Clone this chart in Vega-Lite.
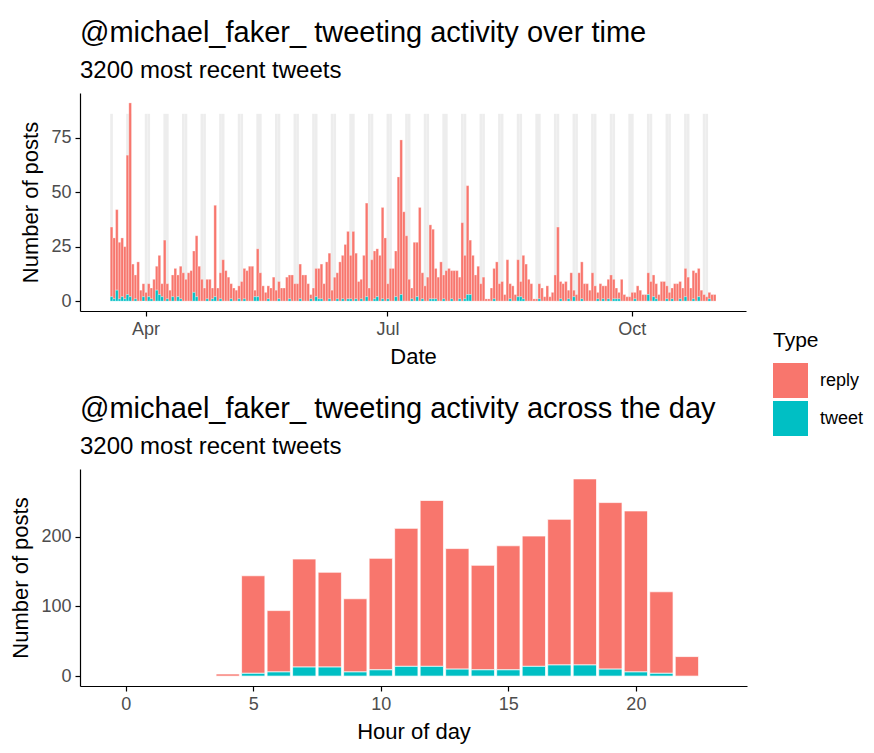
{
  "$schema": "https://vega.github.io/schema/vega-lite/v6.json",
  "background": "white",
  "padding": {"left": 9, "top": 19, "right": 4, "bottom": 4},
  "align": "none",
  "spacing": 28,
  "config": {
    "font": "Liberation Sans",
    "view": {"stroke": null},
    "axis": {"domainColor": "black", "domainWidth": 1.2, "tickColor": "black", "tickWidth": 1.2, "tickSize": 5, "labelColor": "#4D4D4D", "labelFontSize": 18, "titleFontSize": 22, "titleFontWeight": "normal", "titleColor": "black", "grid": false, "labelPadding": 4, "titlePadding": 8},
    "title": {"anchor": "start", "frame": "group", "fontSize": 29, "fontWeight": "normal", "color": "black", "subtitleFontSize": 24, "subtitleColor": "black", "subtitlePadding": 11, "offset": 10},
    "legend": {"titleFontSize": 21, "titleFontWeight": "normal", "titleColor": "black", "labelFontSize": 18, "labelColor": "black", "symbolType": "square", "symbolSize": 1225, "symbolStrokeWidth": 0, "symbolOpacity": 1, "rowPadding": 3, "labelOffset": 12, "titlePadding": 12}
  },
  "datasets": {
    "daily": [
      {"date":"2017-03-19","Type":"reply","n":32},{"date":"2017-03-20","Type":"reply","n":28},{"date":"2017-03-21","Type":"reply","n":37},{"date":"2017-03-22","Type":"reply","n":26},{"date":"2017-03-23","Type":"reply","n":27},{"date":"2017-03-24","Type":"reply","n":24},{"date":"2017-03-25","Type":"reply","n":64},{"date":"2017-03-26","Type":"reply","n":89},{"date":"2017-03-27","Type":"reply","n":17},{"date":"2017-03-28","Type":"reply","n":11},{"date":"2017-03-29","Type":"reply","n":18},{"date":"2017-03-30","Type":"reply","n":5},{"date":"2017-03-31","Type":"reply","n":6},
      {"date":"2017-04-01","Type":"reply","n":4},{"date":"2017-04-02","Type":"reply","n":6},{"date":"2017-04-03","Type":"reply","n":5},{"date":"2017-04-04","Type":"reply","n":10},{"date":"2017-04-05","Type":"reply","n":11},{"date":"2017-04-06","Type":"reply","n":18},{"date":"2017-04-07","Type":"reply","n":6},{"date":"2017-04-08","Type":"reply","n":28},{"date":"2017-04-09","Type":"reply","n":7},{"date":"2017-04-10","Type":"reply","n":5},{"date":"2017-04-11","Type":"reply","n":10},{"date":"2017-04-12","Type":"reply","n":15},{"date":"2017-04-13","Type":"reply","n":10},{"date":"2017-04-14","Type":"reply","n":15},{"date":"2017-04-15","Type":"reply","n":13},{"date":"2017-04-16","Type":"reply","n":10},{"date":"2017-04-17","Type":"reply","n":13},{"date":"2017-04-18","Type":"reply","n":14},{"date":"2017-04-19","Type":"reply","n":19},{"date":"2017-04-20","Type":"reply","n":28},{"date":"2017-04-21","Type":"reply","n":16},{"date":"2017-04-22","Type":"reply","n":10},{"date":"2017-04-23","Type":"reply","n":6},{"date":"2017-04-24","Type":"reply","n":9},{"date":"2017-04-25","Type":"reply","n":10},{"date":"2017-04-26","Type":"reply","n":5},{"date":"2017-04-27","Type":"reply","n":42},{"date":"2017-04-28","Type":"reply","n":6},{"date":"2017-04-29","Type":"reply","n":12},{"date":"2017-04-30","Type":"reply","n":19},
      {"date":"2017-05-01","Type":"reply","n":14},{"date":"2017-05-02","Type":"reply","n":11},{"date":"2017-05-03","Type":"reply","n":7},{"date":"2017-05-04","Type":"reply","n":6},{"date":"2017-05-05","Type":"reply","n":5},{"date":"2017-05-06","Type":"reply","n":6},{"date":"2017-05-07","Type":"reply","n":9},{"date":"2017-05-08","Type":"reply","n":14},{"date":"2017-05-09","Type":"reply","n":14},{"date":"2017-05-10","Type":"reply","n":16},{"date":"2017-05-11","Type":"reply","n":16},{"date":"2017-05-12","Type":"reply","n":3},{"date":"2017-05-13","Type":"reply","n":22},{"date":"2017-05-14","Type":"reply","n":13},{"date":"2017-05-15","Type":"reply","n":7},{"date":"2017-05-16","Type":"reply","n":4},{"date":"2017-05-17","Type":"reply","n":6},{"date":"2017-05-18","Type":"reply","n":6},{"date":"2017-05-19","Type":"reply","n":11},{"date":"2017-05-20","Type":"reply","n":5},{"date":"2017-05-21","Type":"reply","n":8},{"date":"2017-05-22","Type":"reply","n":6},{"date":"2017-05-23","Type":"reply","n":6},{"date":"2017-05-24","Type":"reply","n":11},{"date":"2017-05-25","Type":"reply","n":11},{"date":"2017-05-26","Type":"reply","n":12},{"date":"2017-05-27","Type":"reply","n":8},{"date":"2017-05-28","Type":"reply","n":8},{"date":"2017-05-29","Type":"reply","n":16},{"date":"2017-05-30","Type":"reply","n":12},{"date":"2017-05-31","Type":"reply","n":12},
      {"date":"2017-06-01","Type":"reply","n":8},{"date":"2017-06-02","Type":"reply","n":2},{"date":"2017-06-03","Type":"reply","n":6},{"date":"2017-06-04","Type":"reply","n":13},{"date":"2017-06-05","Type":"reply","n":14},{"date":"2017-06-06","Type":"reply","n":16},{"date":"2017-06-07","Type":"reply","n":8},{"date":"2017-06-08","Type":"reply","n":18},{"date":"2017-06-09","Type":"reply","n":21},{"date":"2017-06-10","Type":"reply","n":5},{"date":"2017-06-11","Type":"reply","n":11},{"date":"2017-06-12","Type":"reply","n":12},{"date":"2017-06-13","Type":"reply","n":18},{"date":"2017-06-14","Type":"reply","n":20},{"date":"2017-06-15","Type":"reply","n":26},{"date":"2017-06-16","Type":"reply","n":31},{"date":"2017-06-17","Type":"reply","n":20},{"date":"2017-06-18","Type":"reply","n":32},{"date":"2017-06-19","Type":"reply","n":21},{"date":"2017-06-20","Type":"reply","n":9},{"date":"2017-06-21","Type":"reply","n":9},{"date":"2017-06-22","Type":"reply","n":21},{"date":"2017-06-23","Type":"reply","n":43},{"date":"2017-06-24","Type":"reply","n":6},{"date":"2017-06-25","Type":"reply","n":19},{"date":"2017-06-26","Type":"reply","n":22},{"date":"2017-06-27","Type":"reply","n":22},{"date":"2017-06-28","Type":"reply","n":21},{"date":"2017-06-29","Type":"reply","n":42},{"date":"2017-06-30","Type":"reply","n":29},
      {"date":"2017-07-01","Type":"reply","n":7},{"date":"2017-07-02","Type":"reply","n":15},{"date":"2017-07-03","Type":"reply","n":15},{"date":"2017-07-04","Type":"reply","n":21},{"date":"2017-07-05","Type":"reply","n":57},{"date":"2017-07-06","Type":"reply","n":71},{"date":"2017-07-07","Type":"reply","n":41},{"date":"2017-07-08","Type":"reply","n":30},{"date":"2017-07-09","Type":"reply","n":10},{"date":"2017-07-10","Type":"reply","n":5},{"date":"2017-07-11","Type":"reply","n":27},{"date":"2017-07-12","Type":"reply","n":25},{"date":"2017-07-13","Type":"reply","n":43},{"date":"2017-07-14","Type":"reply","n":12},{"date":"2017-07-15","Type":"reply","n":7},{"date":"2017-07-16","Type":"reply","n":11},{"date":"2017-07-17","Type":"reply","n":34},{"date":"2017-07-18","Type":"reply","n":32},{"date":"2017-07-19","Type":"reply","n":14},{"date":"2017-07-20","Type":"reply","n":11},{"date":"2017-07-21","Type":"reply","n":18},{"date":"2017-07-22","Type":"reply","n":11},{"date":"2017-07-23","Type":"reply","n":14},{"date":"2017-07-24","Type":"reply","n":15},{"date":"2017-07-25","Type":"reply","n":13},{"date":"2017-07-26","Type":"reply","n":14},{"date":"2017-07-27","Type":"reply","n":14},{"date":"2017-07-28","Type":"reply","n":10},{"date":"2017-07-29","Type":"reply","n":36},{"date":"2017-07-30","Type":"reply","n":20},{"date":"2017-07-31","Type":"reply","n":50},
      {"date":"2017-08-01","Type":"reply","n":25},{"date":"2017-08-02","Type":"reply","n":21},{"date":"2017-08-03","Type":"reply","n":12},{"date":"2017-08-04","Type":"reply","n":16},{"date":"2017-08-05","Type":"reply","n":8},{"date":"2017-08-06","Type":"reply","n":11},{"date":"2017-08-07","Type":"reply","n":1},{"date":"2017-08-08","Type":"reply","n":1},{"date":"2017-08-09","Type":"reply","n":6},{"date":"2017-08-10","Type":"reply","n":14},{"date":"2017-08-11","Type":"reply","n":18},{"date":"2017-08-12","Type":"reply","n":8},{"date":"2017-08-13","Type":"reply","n":9},{"date":"2017-08-14","Type":"reply","n":3},{"date":"2017-08-15","Type":"reply","n":19},{"date":"2017-08-16","Type":"reply","n":7},{"date":"2017-08-17","Type":"reply","n":7},{"date":"2017-08-18","Type":"reply","n":3},{"date":"2017-08-19","Type":"reply","n":17},{"date":"2017-08-20","Type":"reply","n":7},{"date":"2017-08-21","Type":"reply","n":20},{"date":"2017-08-22","Type":"reply","n":17},{"date":"2017-08-23","Type":"reply","n":10},{"date":"2017-08-24","Type":"reply","n":8},{"date":"2017-08-25","Type":"reply","n":1},{"date":"2017-08-26","Type":"reply","n":1},{"date":"2017-08-27","Type":"reply","n":7},{"date":"2017-08-28","Type":"reply","n":6},{"date":"2017-08-29","Type":"reply","n":2},{"date":"2017-08-30","Type":"reply","n":7},{"date":"2017-08-31","Type":"reply","n":2},
      {"date":"2017-09-01","Type":"reply","n":4},{"date":"2017-09-02","Type":"reply","n":12},{"date":"2017-09-03","Type":"reply","n":34},{"date":"2017-09-04","Type":"reply","n":8},{"date":"2017-09-05","Type":"reply","n":8},{"date":"2017-09-06","Type":"reply","n":9},{"date":"2017-09-07","Type":"reply","n":4},{"date":"2017-09-08","Type":"reply","n":13},{"date":"2017-09-09","Type":"reply","n":3},{"date":"2017-09-10","Type":"reply","n":3},{"date":"2017-09-11","Type":"reply","n":13},{"date":"2017-09-12","Type":"reply","n":17},{"date":"2017-09-13","Type":"reply","n":8},{"date":"2017-09-14","Type":"reply","n":8},{"date":"2017-09-15","Type":"reply","n":5},{"date":"2017-09-16","Type":"reply","n":13},{"date":"2017-09-17","Type":"reply","n":7},{"date":"2017-09-18","Type":"reply","n":3},{"date":"2017-09-19","Type":"reply","n":8},{"date":"2017-09-20","Type":"reply","n":6},{"date":"2017-09-21","Type":"reply","n":7},{"date":"2017-09-22","Type":"reply","n":9},{"date":"2017-09-23","Type":"reply","n":12},{"date":"2017-09-24","Type":"reply","n":9},{"date":"2017-09-25","Type":"reply","n":5},{"date":"2017-09-26","Type":"reply","n":3},{"date":"2017-09-27","Type":"reply","n":10},{"date":"2017-09-28","Type":"reply","n":3},{"date":"2017-09-29","Type":"reply","n":2},{"date":"2017-09-30","Type":"reply","n":2},
      {"date":"2017-10-01","Type":"reply","n":4},{"date":"2017-10-02","Type":"reply","n":3},{"date":"2017-10-03","Type":"reply","n":7},{"date":"2017-10-04","Type":"reply","n":5},{"date":"2017-10-05","Type":"reply","n":3},{"date":"2017-10-06","Type":"reply","n":3},{"date":"2017-10-07","Type":"reply","n":10},{"date":"2017-10-08","Type":"reply","n":9},{"date":"2017-10-09","Type":"reply","n":10},{"date":"2017-10-10","Type":"reply","n":7},{"date":"2017-10-11","Type":"reply","n":3},{"date":"2017-10-12","Type":"reply","n":9},{"date":"2017-10-13","Type":"reply","n":9},{"date":"2017-10-14","Type":"reply","n":6},{"date":"2017-10-15","Type":"reply","n":4},{"date":"2017-10-16","Type":"reply","n":5},{"date":"2017-10-17","Type":"reply","n":8},{"date":"2017-10-18","Type":"reply","n":8},{"date":"2017-10-19","Type":"reply","n":8},{"date":"2017-10-20","Type":"reply","n":6},{"date":"2017-10-21","Type":"reply","n":13},{"date":"2017-10-22","Type":"reply","n":11},{"date":"2017-10-23","Type":"reply","n":6},{"date":"2017-10-24","Type":"reply","n":13},{"date":"2017-10-25","Type":"reply","n":13},{"date":"2017-10-26","Type":"reply","n":13},{"date":"2017-10-27","Type":"reply","n":5},{"date":"2017-10-28","Type":"reply","n":3},{"date":"2017-10-29","Type":"reply","n":2},{"date":"2017-10-30","Type":"reply","n":3},{"date":"2017-10-31","Type":"reply","n":3},{"date":"2017-11-01","Type":"reply","n":3},
      {"date":"2017-03-19","Type":"tweet","n":2},{"date":"2017-03-20","Type":"tweet","n":1},{"date":"2017-03-21","Type":"tweet","n":5},{"date":"2017-03-22","Type":"tweet","n":1},{"date":"2017-03-23","Type":"tweet","n":2},{"date":"2017-03-24","Type":"tweet","n":1},{"date":"2017-03-25","Type":"tweet","n":3},{"date":"2017-03-26","Type":"tweet","n":2},{"date":"2017-03-28","Type":"tweet","n":1},{"date":"2017-03-31","Type":"tweet","n":2},
      {"date":"2017-04-02","Type":"tweet","n":2},{"date":"2017-04-03","Type":"tweet","n":1},{"date":"2017-04-05","Type":"tweet","n":5},{"date":"2017-04-06","Type":"tweet","n":3},{"date":"2017-04-07","Type":"tweet","n":2},{"date":"2017-04-09","Type":"tweet","n":1},{"date":"2017-04-11","Type":"tweet","n":2},{"date":"2017-04-13","Type":"tweet","n":2},{"date":"2017-04-14","Type":"tweet","n":1},{"date":"2017-04-19","Type":"tweet","n":4},{"date":"2017-04-20","Type":"tweet","n":2},{"date":"2017-04-24","Type":"tweet","n":1},{"date":"2017-04-26","Type":"tweet","n":1},{"date":"2017-04-27","Type":"tweet","n":2},{"date":"2017-04-29","Type":"tweet","n":1},
      {"date":"2017-05-03","Type":"tweet","n":1},{"date":"2017-05-06","Type":"tweet","n":1},{"date":"2017-05-08","Type":"tweet","n":1},{"date":"2017-05-12","Type":"tweet","n":2},{"date":"2017-05-13","Type":"tweet","n":2},{"date":"2017-05-17","Type":"tweet","n":1},{"date":"2017-05-21","Type":"tweet","n":1},{"date":"2017-05-25","Type":"tweet","n":1},{"date":"2017-05-29","Type":"tweet","n":1},
      {"date":"2017-06-02","Type":"tweet","n":1},{"date":"2017-06-04","Type":"tweet","n":2},{"date":"2017-06-05","Type":"tweet","n":1},{"date":"2017-06-06","Type":"tweet","n":1},{"date":"2017-06-09","Type":"tweet","n":1},{"date":"2017-06-12","Type":"tweet","n":1},{"date":"2017-06-14","Type":"tweet","n":1},{"date":"2017-06-16","Type":"tweet","n":1},{"date":"2017-06-17","Type":"tweet","n":1},{"date":"2017-06-19","Type":"tweet","n":1},{"date":"2017-06-21","Type":"tweet","n":1},{"date":"2017-06-23","Type":"tweet","n":2},{"date":"2017-06-26","Type":"tweet","n":1},{"date":"2017-06-27","Type":"tweet","n":2},{"date":"2017-06-29","Type":"tweet","n":1},
      {"date":"2017-07-01","Type":"tweet","n":1},{"date":"2017-07-04","Type":"tweet","n":2},{"date":"2017-07-06","Type":"tweet","n":3},{"date":"2017-07-10","Type":"tweet","n":1},{"date":"2017-07-12","Type":"tweet","n":2},{"date":"2017-07-14","Type":"tweet","n":1},{"date":"2017-07-17","Type":"tweet","n":1},{"date":"2017-07-18","Type":"tweet","n":1},{"date":"2017-07-19","Type":"tweet","n":1},{"date":"2017-07-22","Type":"tweet","n":1},{"date":"2017-07-25","Type":"tweet","n":1},{"date":"2017-07-28","Type":"tweet","n":1},{"date":"2017-07-30","Type":"tweet","n":1},{"date":"2017-07-31","Type":"tweet","n":3},
      {"date":"2017-08-01","Type":"tweet","n":3},{"date":"2017-08-10","Type":"tweet","n":1},{"date":"2017-08-16","Type":"tweet","n":1},{"date":"2017-08-19","Type":"tweet","n":2},{"date":"2017-08-20","Type":"tweet","n":2},{"date":"2017-08-21","Type":"tweet","n":1},{"date":"2017-08-27","Type":"tweet","n":1},
      {"date":"2017-09-04","Type":"tweet","n":1},{"date":"2017-09-07","Type":"tweet","n":1},{"date":"2017-09-09","Type":"tweet","n":2},{"date":"2017-09-12","Type":"tweet","n":1},{"date":"2017-09-18","Type":"tweet","n":1},{"date":"2017-09-20","Type":"tweet","n":1},{"date":"2017-09-22","Type":"tweet","n":1},{"date":"2017-09-24","Type":"tweet","n":1},{"date":"2017-09-25","Type":"tweet","n":1},{"date":"2017-09-26","Type":"tweet","n":1},
      {"date":"2017-10-02","Type":"tweet","n":1},{"date":"2017-10-07","Type":"tweet","n":3},{"date":"2017-10-09","Type":"tweet","n":2},{"date":"2017-10-10","Type":"tweet","n":1},{"date":"2017-10-14","Type":"tweet","n":1},{"date":"2017-10-16","Type":"tweet","n":1},{"date":"2017-10-19","Type":"tweet","n":1},{"date":"2017-10-21","Type":"tweet","n":2},{"date":"2017-10-24","Type":"tweet","n":1},{"date":"2017-10-26","Type":"tweet","n":2},{"date":"2017-10-30","Type":"tweet","n":1}
    ],
    "hourly": [
      {"hour":4,"Type":"reply","n":3},{"hour":5,"Type":"reply","n":140},{"hour":6,"Type":"reply","n":88},{"hour":7,"Type":"reply","n":155},{"hour":8,"Type":"reply","n":136},{"hour":9,"Type":"reply","n":105},{"hour":10,"Type":"reply","n":160},{"hour":11,"Type":"reply","n":198},{"hour":12,"Type":"reply","n":238},{"hour":13,"Type":"reply","n":173},{"hour":14,"Type":"reply","n":150},{"hour":15,"Type":"reply","n":178},{"hour":16,"Type":"reply","n":187},{"hour":17,"Type":"reply","n":209},{"hour":18,"Type":"reply","n":267},{"hour":19,"Type":"reply","n":239},{"hour":20,"Type":"reply","n":231},{"hour":21,"Type":"reply","n":117},{"hour":22,"Type":"reply","n":28},
      {"hour":5,"Type":"tweet","n":4},{"hour":6,"Type":"tweet","n":6},{"hour":7,"Type":"tweet","n":13},{"hour":8,"Type":"tweet","n":13},{"hour":9,"Type":"tweet","n":6},{"hour":10,"Type":"tweet","n":9},{"hour":11,"Type":"tweet","n":14},{"hour":12,"Type":"tweet","n":14},{"hour":13,"Type":"tweet","n":10},{"hour":14,"Type":"tweet","n":9},{"hour":15,"Type":"tweet","n":9},{"hour":16,"Type":"tweet","n":14},{"hour":17,"Type":"tweet","n":16},{"hour":18,"Type":"tweet","n":16},{"hour":19,"Type":"tweet","n":10},{"hour":20,"Type":"tweet","n":6},{"hour":21,"Type":"tweet","n":4}
    ]
  },
  "vconcat": [
    {
      "width": 666,
      "height": 218,
      "title": {"text": "@michael_faker_ tweeting activity over time", "subtitle": "3200 most recent tweets"},
      "data": {"name": "daily"},
      "encoding": {
        "x": {
          "field": "date", "timeUnit": "utcyearmonthdate", "type": "temporal", "title": "Date",
          "scale": {"domain": [{"year": 2017, "month": 3, "date": 7, "hours": 19, "minutes": 26, "utc": true}, {"year": 2017, "month": 11, "date": 13, "hours": 11, "minutes": 17, "utc": true}]},
          "axis": {"values": [{"year": 2017, "month": 4, "date": 1, "hours": 12, "utc": true}, {"year": 2017, "month": 7, "date": 1, "hours": 12, "utc": true}, {"year": 2017, "month": 10, "date": 1, "hours": 12, "utc": true}], "format": "%b"}
        }
      },
      "layer": [
        {
          "transform": [{"filter": "datum.Type === 'reply' && (utcday(toDate(datum.date)) === 0 || utcday(toDate(datum.date)) === 6)"}],
          "mark": {"type": "bar", "color": "#EDEDED", "binSpacing": 0},
          "encoding": {
            "y": {"datum": 0, "type": "quantitative", "title": "Number of posts"},
            "y2": {"datum": 86}
          }
        },
        {
          "mark": {"type": "bar", "binSpacing": 0, "stroke": "white", "strokeWidth": 0.3},
          "encoding": {
            "y": {"field": "n", "type": "quantitative", "stack": "zero", "title": "Number of posts", "scale": {"domain": [-4.55, 95.55], "nice": false, "zero": false}, "axis": {"values": [0, 25, 50, 75]}},
            "color": {"field": "Type", "type": "nominal", "scale": {"domain": ["reply", "tweet"], "range": ["#F8766D", "#00BFC4"]}, "legend": {"orient": "none", "legendX": 693, "legendY": 237, "title": "Type"}},
            "order": {"field": "Type", "sort": "descending"}
          }
        }
      ]
    },
    {
      "width": 667,
      "height": 217,
      "title": {"text": "@michael_faker_ tweeting activity across the day", "subtitle": "3200 most recent tweets"},
      "data": {"name": "hourly"},
      "mark": {"type": "bar", "size": 23.3, "stroke": "white", "strokeWidth": 0.7},
      "encoding": {
        "x": {"field": "hour", "type": "quantitative", "title": "Hour of day", "scale": {"domain": [-1.595, 24.16], "nice": false, "zero": false}, "axis": {"values": [0, 5, 10, 15, 20]}},
        "y": {"field": "n", "type": "quantitative", "stack": "zero", "title": "Number of posts", "scale": {"domain": [-14.2, 297.2], "nice": false, "zero": false}, "axis": {"values": [0, 100, 200]}},
        "color": {"field": "Type", "type": "nominal", "scale": {"domain": ["reply", "tweet"], "range": ["#F8766D", "#00BFC4"]}, "legend": {"orient": "none", "legendX": 693, "legendY": 237, "title": "Type"}},
        "order": {"field": "Type", "sort": "descending"}
      }
    }
  ]
}
